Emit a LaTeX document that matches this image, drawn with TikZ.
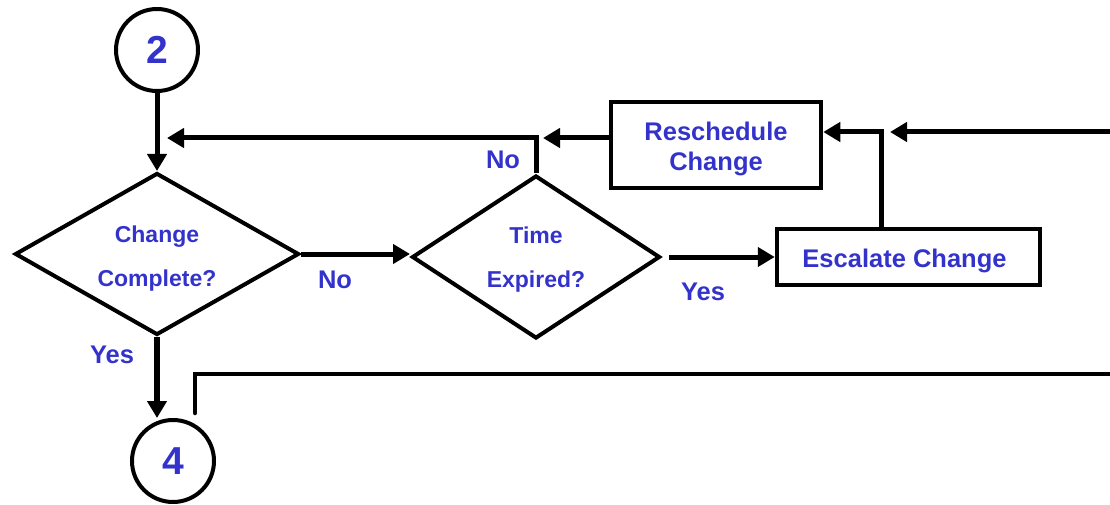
\documentclass[tikz,border=0pt]{standalone}
\usepackage{fontspec}
\setmainfont{Liberation Sans}
\usetikzlibrary{shapes.geometric,arrows.meta}
\definecolor{labelblue}{RGB}{51,51,204}
\begin{document}
\begin{tikzpicture}[x=1pt,y=-1pt,
  btext/.style={text=labelblue,font=\bfseries\fontsize{#1}{#1}\selectfont},
  connector/.style={draw,circle,line width=4pt,minimum size=82pt,inner sep=0pt,
    text=labelblue,font=\bfseries\fontsize{39}{39}\selectfont},
  decision/.style={draw,diamond,line width=4pt,aspect=1.73,inner sep=0pt},
  dtext/.style={align=center,inner sep=0pt,text=labelblue,
    font=\bfseries\fontsize{23}{44}\selectfont},
  process/.style={draw,rectangle,line width=4.5pt,inner sep=0pt},
  ptext/.style={align=center,inner sep=0pt,text=labelblue,
    font=\bfseries\fontsize{25.5}{30}\selectfont},
  arr/.style={line width=5pt,-{Triangle[length=17pt,width=19pt]}},
  flow/.style={line width=4.5pt,line cap=round}]
\useasboundingbox (0,0) rectangle (1110,505);

% connectors (off-page references)
\node[connector] (c2) at (157,50) {2};
\node[connector] (c4) at (173,461) {4};

% decisions
\node[decision,minimum width=284pt,minimum height=162pt] (d1) at (157,254) {};
\node[dtext] (d1t) at ([yshift=-5pt]d1.center) {Change\\Complete?};
\node[decision,minimum width=248pt,minimum height=163pt] (d2) at (536,257) {};
\node[dtext] (d2t) at ([yshift=-3pt]d2.center) {Time\\Expired?};

% process boxes
\node[process,minimum width=210pt,minimum height=86pt] (resched) at (716,145) {};
\node[ptext] (rt) at ([yshift=-4pt]resched.center) {Reschedule\\Change};
\node[process,minimum width=263pt,minimum height=56pt] (esc) at (908.5,257) {};
\node[ptext] (et) at ([yshift=-4pt,xshift=-4pt]esc.center) {Escalate Change};

% junction points
\coordinate (join) at (157,138);
\coordinate (rjoin) at (881,132);
\coordinate (rin) at (1112,132);
\coordinate (lin) at (1112,374);
\coordinate (lcorner) at (195,374);
\coordinate (lend) at (195,413);

% main flow
\draw[arr] (c2) -- (d1.north);
\draw[arr] (d1.east) -- (d1.east -| d2.west);
\draw[arr,line width=6pt] (d1.south) -- (d1.south |- c4.north);
\draw[arr] ([xshift=7pt]d2.east) -- (esc.west);

% "No" loop back from Time Expired?
\draw[arr] (d2.north) |- ([xshift=10pt]join);
\draw[arr] (resched.west |- join) -- ([xshift=7pt]d2.north |- join);

% escalation to reschedule
\draw[arr] (esc.north -| rjoin) |- (resched.east |- rjoin);
\draw[arr] (rin) -- ([xshift=9pt]rjoin);

% return line toward connector 4
\draw[flow] (lin) -- (lcorner) -- (lend);

% branch labels
\node[btext=25.5] (no1) at (335,280) {No};
\node[btext=25.5] (yes1) at (112,355) {Yes};
\node[btext=25.5] (no2) at (503,160) {No};
\node[btext=25.5] (yes2) at (703,292) {Yes};
\end{tikzpicture}
\end{document}
